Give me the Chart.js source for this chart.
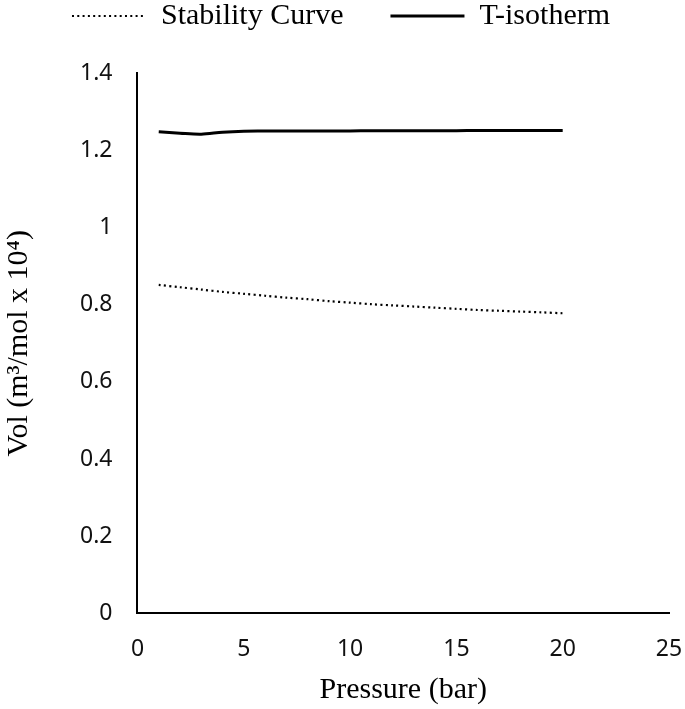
<!DOCTYPE html>
<html><head><meta charset="utf-8">
<script src="https://cdn.jsdelivr.net/npm/chart.js@4"></script>
<style>html,body{margin:0;padding:0;background:#fff}#wrap{width:685px;height:709px}</style>
</head><body><div id="wrap"><canvas id="c" width="685" height="709"></canvas></div>
<script>
const pressure = [1,2,3,4,5,6,7,8,9,10,11,12,13,14,15,16,17,18,19,20];
const stability = [0.851,0.845,0.839,0.833,0.828,0.823,0.818,0.814,0.809,0.805,0.801,0.798,0.795,0.792,0.789,0.786,0.784,0.782,0.780,0.7775];
const isotherm = [1.2475,1.244,1.2416,1.2468,1.2494,1.2497,1.2499,1.250,1.250,1.250,1.2502,1.2504,1.2505,1.2506,1.2507,1.2508,1.2509,1.251,1.2511,1.2512];
const seriesNames = ['Stability Curve','T-isotherm'];
const xTitle = 'Pressure (bar)';
const yTitle = 'Vol (m\u00B3/mol x 10\u2074)';

const toPts = (ys) => pressure.map((x,i)=>({x, y: ys[i]}));
new Chart(document.getElementById('c'), {
  type: 'scatter',
  data: { datasets: [
    { label: seriesNames[0], data: toPts(stability), showLine: true, borderColor: '#000', backgroundColor: '#000', borderWidth: 2.2, borderDash: [2,3.3], pointRadius: 0, tension: 0.3 },
    { label: seriesNames[1], data: toPts(isotherm), showLine: true, borderColor: '#000', backgroundColor: '#000', borderWidth: 3, pointRadius: 0, tension: 0.3 }
  ]},
  options: {
    responsive: false, animation: false, devicePixelRatio: 1,
    layout: { padding: { left: 0, right: 3, top: -46, bottom: 1 } },
    plugins: {
      tooltip: { enabled: false },
      title: { display: true, text: ' ', position: 'top', weight: 500, font: { size: 10 }, padding: { top: 20, bottom: 0 } },
      legend: { position: 'top', labels: {
        usePointStyle: true, pointStyle: 'line', pointStyleWidth: 74, color: '#000', padding: 47,
        font: { family: 'Liberation Serif', size: 30 },
        generateLabels(chart) {
          const items = Chart.defaults.plugins.legend.labels.generateLabels(chart);
          items.forEach((it, i) => {
            const ds = chart.data.datasets[i];
            it.lineDash = ds.borderDash || [];
            it.lineWidth = ds.borderWidth;
            it.strokeStyle = '#000';
            it.pointStyle = 'line';
          });
          return items;
        }
      } }
    },
    scales: {
      x: { type: 'linear', min: 0, max: 25, ticks: { stepSize: 5, color: '#111', padding: 22, font: { family: 'Noto Sans', size: 23 } },
           afterFit: (s) => { s.paddingRight = 16; s.paddingLeft = 0; },
           grid: { display: false, drawTicks: false }, border: { color: '#000', width: 2 },
           title: { display: true, text: xTitle, color: '#000', font: { family: 'Liberation Serif', size: 30 }, padding: { top: -13, bottom: 0 } } },
      y: { min: 0, max: 1.4, ticks: { stepSize: 0.2, color: '#111', padding: 25, font: { family: 'Noto Sans', size: 23 },
             callback: (v) => String(Number(v.toFixed(1))) },
           grid: { display: false, drawTicks: false }, border: { color: '#000', width: 2 },
           title: { display: true, text: yTitle, color: '#000', font: { family: 'Liberation Serif', size: 30 }, padding: { top: 1, bottom: 18 } } }
    }
  }
});
</script></body></html>
